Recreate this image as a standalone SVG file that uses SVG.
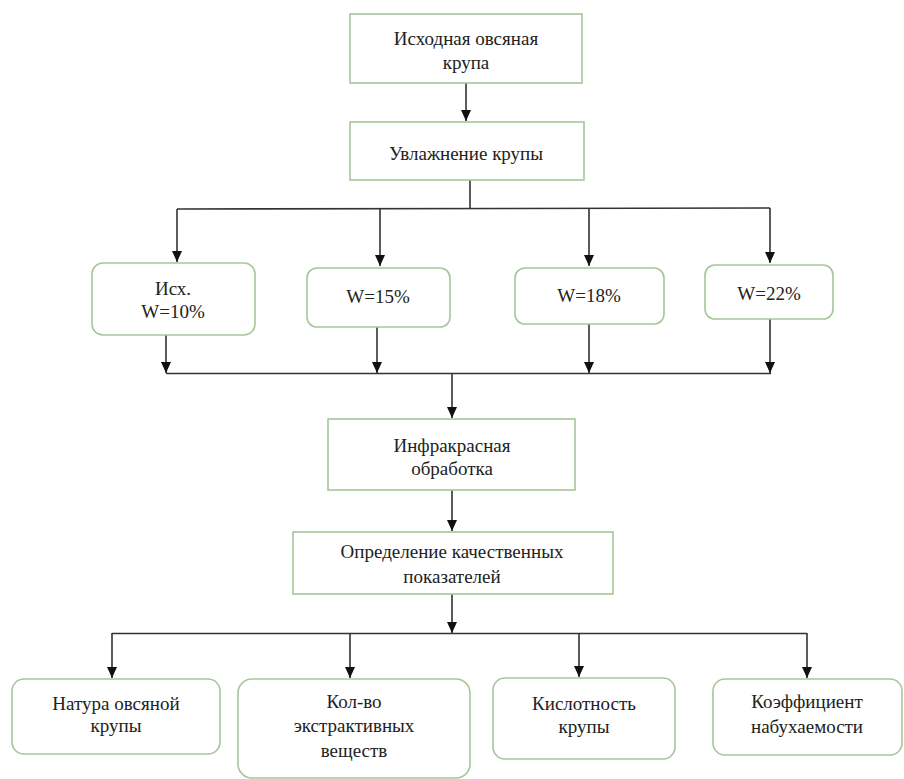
<svg xmlns="http://www.w3.org/2000/svg" width="904" height="779" viewBox="0 0 904 779">
<defs>
<style>
.box{fill:#fff;stroke:#a6c69a;stroke-width:1.6}
text{font-family:'Liberation Serif','DejaVu Serif',serif;font-size:19px;fill:#222;text-anchor:middle}
.ln{fill:none;stroke:#333;stroke-width:1.6}
</style>
<marker id="ah" markerWidth="12" markerHeight="12" viewBox="0 0 12 12" refX="11" refY="6" orient="auto" markerUnits="userSpaceOnUse">
<path d="M0,1 L11,6 L0,11 Z" fill="#111"/>
</marker>
</defs>
<rect width="904" height="779" fill="#fff"/>
<g id="connectors">
<line class="ln" x1="466" y1="83" x2="466" y2="121" marker-end="url(#ah)"/>
<line class="ln" x1="470" y1="180" x2="470" y2="209"/>
<line class="ln" x1="177" y1="209" x2="770" y2="208"/>
<line class="ln" x1="177" y1="209" x2="177" y2="262" marker-end="url(#ah)"/>
<line class="ln" x1="380" y1="209" x2="380" y2="266" marker-end="url(#ah)"/>
<line class="ln" x1="589" y1="208" x2="589" y2="266" marker-end="url(#ah)"/>
<line class="ln" x1="770" y1="208" x2="770" y2="263" marker-end="url(#ah)"/>
<line class="ln" x1="166" y1="335" x2="166" y2="373" marker-end="url(#ah)"/>
<line class="ln" x1="377" y1="327" x2="377" y2="373" marker-end="url(#ah)"/>
<line class="ln" x1="589" y1="324" x2="589" y2="373" marker-end="url(#ah)"/>
<line class="ln" x1="770" y1="319" x2="770" y2="373" marker-end="url(#ah)"/>
<line class="ln" x1="166" y1="373.5" x2="771" y2="373.5"/>
<line class="ln" x1="452" y1="374" x2="452" y2="418" marker-end="url(#ah)"/>
<line class="ln" x1="452" y1="490" x2="452" y2="531" marker-end="url(#ah)"/>
<line class="ln" x1="452" y1="594" x2="452" y2="633" marker-end="url(#ah)"/>
<line class="ln" x1="112" y1="633.5" x2="807" y2="633.5"/>
<line class="ln" x1="112" y1="633" x2="112" y2="678" marker-end="url(#ah)"/>
<line class="ln" x1="350" y1="633" x2="350" y2="678" marker-end="url(#ah)"/>
<line class="ln" x1="579" y1="633" x2="579" y2="677" marker-end="url(#ah)"/>
<line class="ln" x1="807" y1="633" x2="807" y2="678" marker-end="url(#ah)"/>
</g>
<g id="n1"><rect class="box" x="350" y="14" width="232" height="69"/>
<text x="466" y="45" font-family="Liberation Serif" font-size="19">Исходная овсяная</text><text x="466" y="69">крупа</text></g>
<g id="n2"><rect class="box" x="350" y="122" width="234" height="58"/>
<text x="466" y="160">Увлажнение крупы</text></g>
<g id="n3"><rect class="box" x="92" y="263" width="163" height="72" rx="11"/>
<text x="173" y="295">Исх.</text><text x="173" y="318">W=10%</text></g>
<g id="n4"><rect class="box" x="307" y="268" width="143" height="59" rx="10"/>
<text x="378" y="303">W=15%</text></g>
<g id="n5"><rect class="box" x="515" y="268" width="149" height="56" rx="10"/>
<text x="589" y="302">W=18%</text></g>
<g id="n6"><rect class="box" x="705" y="265" width="128" height="54" rx="10"/>
<text x="769" y="300">W=22%</text></g>
<g id="n7"><rect class="box" x="328" y="419" width="247" height="71"/>
<text x="452" y="452">Инфракрасная</text><text x="452" y="475">обработка</text></g>
<g id="n8"><rect class="box" x="293" y="532" width="320" height="62"/>
<text x="452" y="558">Определение качественных</text><text x="452" y="583">показателей</text></g>
<g id="n9"><rect class="box" x="12" y="679" width="208" height="75" rx="12"/>
<text x="116" y="710">Натура овсяной</text><text x="116" y="732">крупы</text></g>
<g id="n10"><rect class="box" x="238" y="679" width="232" height="99" rx="14"/>
<text x="354" y="708">Кол-во</text><text x="354" y="732">экстрактивных</text><text x="354" y="757">веществ</text></g>
<g id="n11"><rect class="box" x="493" y="678" width="182" height="81" rx="12"/>
<text x="584" y="710">Кислотность</text><text x="584" y="733">крупы</text></g>
<g id="n12"><rect class="box" x="713" y="679" width="189" height="76" rx="12"/>
<text x="807" y="708">Коэффициент</text><text x="807" y="733">набухаемости</text></g>
</svg>
